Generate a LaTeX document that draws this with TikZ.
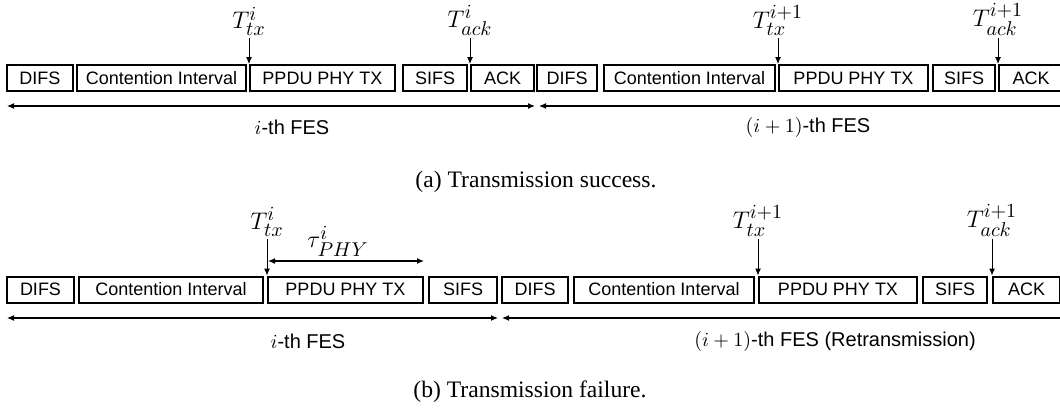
\documentclass[tikz,border=0pt]{standalone}
\usepackage{fontspec}
\setmainfont{Liberation Serif}
\setsansfont{Liberation Sans}
\DeclareMathSizes{13}{13}{10}{8}
\usetikzlibrary{arrows.meta,positioning}

\begin{document}
\begin{tikzpicture}[x=0.5pt,y=-0.5pt,
  slot/.style={draw,line width=1pt,minimum height=13pt,inner sep=0pt,
    font=\sffamily\fontsize{9}{10}\selectfont},
  stamp/.style={inner sep=1pt,font=\fontsize{13}{15}\selectfont},
  fes/.style={font=\sffamily\fontsize{10}{12}\selectfont},
  subcap/.style={font=\fontsize{11.8}{14}\selectfont},
  tip/.style={-{Latex[length=3.5pt,width=3pt]},line width=0.5pt},
  span/.style={{Latex[length=3.5pt,width=3pt]}-{Latex[length=3.5pt,width=3pt]},line width=0.6pt}]
\useasboundingbox (0,0) rectangle (1060,412);

% (a) transmission success
\foreach \nm/\l/\r/\t in {difsA1/7/73/DIFS, ciA1/77/246/Contention Interval,
    ppduA1/250/395/PPDU PHY TX, sifsA1/403/467/SIFS, ackA1/471/534/ACK,
    difsA2/537/597/DIFS, ciA2/604/775/Contention Interval,
    ppduA2/779/928/PPDU PHY TX, sifsA2/933/995/SIFS, ackA2/999/1063/ACK}{
  \node[slot,minimum width={(\r-\l)*0.5pt}] (\nm) at ({(\l+\r)/2},78) {\t};
}
\node[stamp,above=13pt of ppduA1.north west] (ttxA1) {$T_{tx}^{i}$};
\node[stamp,above=13pt of ackA1.north west] (tackA1) {$T_{ack}^{i}$};
\node[stamp,above=13pt of ppduA2.north west] (ttxA2) {$T_{tx}^{i+1}$};
\node[stamp,above=13pt of ackA2.north west] (tackA2) {$T_{ack}^{i+1}$};
\draw[tip] (ttxA1) -- (ppduA1.north west);
\draw[tip] (tackA1) -- (ackA1.north west);
\draw[tip] (ttxA2) -- (ppduA2.north west);
\draw[tip] (tackA2) -- (ackA2.north west);

\coordinate (fesA1l) at (7,106);
\coordinate (fesA1r) at (535,106);
\coordinate (fesA2l) at (539,106);
\coordinate (fesA2r) at (1075,106);
\draw[span] (fesA1l) -- (fesA1r);
\draw[span] (fesA2l) -- (fesA2r);
\node[fes] (fesA1) at (292,127) {$i$-th FES};
\node[fes] (fesA2) at (808,127) {$(i+1)$-th FES};
\node[subcap] (capA) at (536,182) {(a) Transmission success.};

% (b) transmission failure
\foreach \nm/\l/\r/\t in {difsB1/7/74/DIFS, ciB1/79/263/Contention Interval,
    ppduB1/268/423/PPDU PHY TX, sifsB1/429/497/SIFS,
    difsB2/502/568/DIFS, ciB2/574/754/Contention Interval,
    ppduB2/759/917/PPDU PHY TX, sifsB2/923/987/SIFS, ackB2/993/1060/ACK}{
  \node[slot,minimum width={(\r-\l)*0.5pt}] (\nm) at ({(\l+\r)/2},289.5) {\t};
}
\node[stamp,above=18.5pt of ppduB1.north west] (ttxB1) {$T_{tx}^{i}$};
\node[stamp,above=18.5pt of ppduB2.north west] (ttxB2) {$T_{tx}^{i+1}$};
\node[stamp,above=18.5pt of ackB2.north west] (tackB2) {$T_{ack}^{i+1}$};
\draw[tip] (ttxB1) -- (ppduB1.north west);
\draw[tip] (ttxB2) -- (ppduB2.north west);
\draw[tip] (tackB2) -- (ackB2.north west);

\coordinate (tauL) at (268,261);
\coordinate (tauR) at (424,261);
\draw[span] (tauL) -- (tauR);
\node[stamp] (tauB) at (338,241) {$\tau_{PHY}^{i}$};

\coordinate (fesB1l) at (7,318);
\coordinate (fesB1r) at (498,318);
\coordinate (fesB2l) at (502,318);
\coordinate (fesB2r) at (1075,318);
\draw[span] (fesB1l) -- (fesB1r);
\draw[span] (fesB2l) -- (fesB2r);
\node[fes] (fesB1) at (308,341) {$i$-th FES};
\node[fes] (fesB2) at (835,341) {$(i+1)$-th FES (Retransmission)};
\node[subcap] (capB) at (530,392) {(b) Transmission failure.};
\end{tikzpicture}
\end{document}
